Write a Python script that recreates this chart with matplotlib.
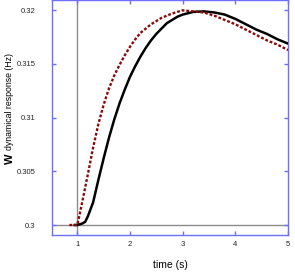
import matplotlib
matplotlib.use("Agg")
import matplotlib.pyplot as plt

# red dotted curve
t_red = [0.85, 1.0, 1.05, 1.1, 1.2, 1.3, 1.4, 1.5, 1.6, 1.7, 1.8, 1.9, 2.0,
         2.1, 2.2, 2.3, 2.4, 2.5, 2.6, 2.8, 3.0, 3.2, 3.4, 3.6, 3.8, 4.0,
         4.2, 4.4, 4.6, 4.8, 5.0]
w_red = [0.3, 0.3, 0.3011, 0.3023, 0.3047, 0.3072, 0.3094, 0.3112, 0.3127,
         0.3139, 0.3149, 0.3158, 0.3166, 0.3173, 0.3179, 0.3183, 0.3187,
         0.3190, 0.3193, 0.3197, 0.3200, 0.3199, 0.3198, 0.3195, 0.3191,
         0.3187, 0.3182, 0.3177, 0.3172, 0.3168, 0.3163]

# black solid curve
t_blk = [0.95, 1.0, 1.1, 1.15, 1.2, 1.3, 1.4, 1.5, 1.6, 1.7, 1.8, 1.9, 2.0,
         2.1, 2.2, 2.3, 2.4, 2.5, 2.6, 2.7, 2.8, 2.9, 3.0, 3.2, 3.4, 3.6,
         3.8, 4.0, 4.2, 4.4, 4.6, 4.8, 5.0]
w_blk = [0.3, 0.3, 0.30015, 0.3003, 0.3008, 0.3021, 0.3042, 0.3062, 0.3081,
         0.3098, 0.3113, 0.3126, 0.3138, 0.3148, 0.3157, 0.3165, 0.3172,
         0.3178, 0.3183, 0.3188, 0.3191, 0.3194, 0.3196, 0.31985, 0.3199,
         0.3198, 0.3196, 0.3192, 0.3187, 0.3182, 0.3178, 0.3173, 0.3169]

x_ticks = [1, 2, 3, 4, 5]
y_ticks = [0.3, 0.305, 0.31, 0.315, 0.32]
y_tick_labels = ["0.3", "0.305", "0.31", "0.315", "0.32"]

plt.rcParams["font.family"] = "Liberation Sans"
spine_col = "#6e6eff"

fig = plt.figure(figsize=(2.95, 2.72), dpi=100)
ax = fig.add_axes([52 / 295, 1 - 235 / 272, 236 / 295, 235 / 272])

ax.axvline(1, color="#8c8c8c", lw=1.0, zorder=1)
ax.axhline(0.3, color="#8c8c8c", lw=1.0, zorder=1)

ax.plot(t_blk, w_blk, color="black", lw=1.8, zorder=3)
ax.plot(t_red, w_red, color="#8b0a0a", lw=1.7, linestyle=(0, (1.2, 0.8)), zorder=4)

ax.set_xlim(0.52, 5.0)
ax.set_ylim(0.29907, 0.32096)
ax.set_xticks(x_ticks)
ax.set_yticks(y_ticks)
ax.set_yticklabels(y_tick_labels)

for s in ax.spines.values():
    s.set_color(spine_col)
    s.set_linewidth(1.0)

ax.tick_params(direction="in", length=3, width=1, color=spine_col,
               top=True, right=True, labelsize=5.5, labelcolor="#222222")
ax.tick_params(axis="y", pad=12)
ax.tick_params(axis="x", pad=4)

ax.set_xlabel("time (s)", fontsize=7.5, labelpad=9)

# y label: big bold W followed by smaller text
fig.text(10 / 295, 1 - 159 / 272, "W", rotation=90, fontsize=8,
         fontweight="bold", ha="center", va="center")
fig.text(10 / 295, 1 - 102 / 272, "dynamical response (Hz)", rotation=90,
         fontsize=6.3, ha="center", va="center")

fig.savefig("out.png", dpi=100)
